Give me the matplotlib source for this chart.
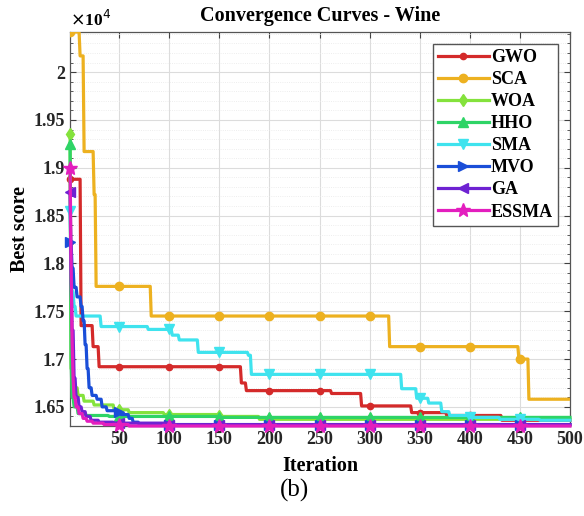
import numpy as np
import matplotlib
matplotlib.use("Agg")
import matplotlib.pyplot as plt
from matplotlib.ticker import MultipleLocator, FuncFormatter

plt.rcParams['font.family'] = ['Liberation Serif', 'DejaVu Serif']

# step-change points (iteration, best score)
n_iter = 500
names = ['GWO', 'SCA', 'WOA', 'HHO', 'SMA', 'MVO', 'GA', 'ESSMA']

gwo_it = [1, 12, 24, 30, 172, 177, 262, 292, 342, 377, 432]
gwo_val = [18880, 17350, 17130, 16920, 16750, 16670, 16640, 16510, 16440, 16410, 16360]

sca_it = [1, 11, 15, 25, 27, 82, 320, 449, 459]
sca_val = [20420, 20170, 19170, 18720, 17760, 17450, 17130, 17000, 16580]

woa_it = [1, 2, 4, 9, 15, 25, 45, 60, 95, 150, 190]
woa_val = [19350, 16900, 16700, 16620, 16560, 16520, 16470, 16440, 16420, 16400, 16370]

hho_it = [1, 2, 3, 5, 9, 17, 40, 150]
hho_val = [19250, 17000, 16600, 16500, 16430, 16410, 16400, 16390]

sma_it = [1, 2, 3, 5, 7, 32, 79, 103, 110, 129, 179, 182, 332, 347, 359, 372, 380, 400, 430, 470]
sma_val = [18550, 18000, 17700, 17550, 17450, 17340, 17310, 17250, 17200, 17070, 17040, 16840,
           16690, 16590, 16540, 16450, 16410, 16390, 16370, 16360]

mvo_it = [1, 3, 5, 8, 12, 14, 16, 18, 20, 23, 28, 33, 38, 47, 52, 60, 64, 70]
mvo_val = [18220, 17950, 17750, 17650, 17550, 17400, 17150, 16900, 16700, 16620, 16580, 16500,
           16460, 16450, 16420, 16380, 16340, 16315]

ga_it = [1, 2, 3, 5, 7, 10, 13, 17, 22, 30, 45, 100]
ga_val = [18750, 17900, 17300, 16800, 16600, 16500, 16450, 16400, 16360, 16340, 16330, 16315]

essma_it = [1, 2, 3, 4, 5, 7, 10, 14, 18, 24, 35, 60]
essma_val = [19000, 18000, 17200, 16800, 16600, 16500, 16430, 16380, 16350, 16330, 16315, 16300]

colors = ['#D42A2A', '#EDB120', '#84E23C', '#2ED466', '#3FE3EE', '#1A4ED8', '#6E22D2', '#E31EBE']
markers = ['.', 'o', 'd', '^', 'v', '>', '<', '*']
msizes = [9, 6, 6, 7, 7, 7, 7, 10]

series = [(gwo_it, gwo_val), (sca_it, sca_val), (woa_it, woa_val), (hho_it, hho_val),
          (sma_it, sma_val), (mvo_it, mvo_val), (ga_it, ga_val), (essma_it, essma_val)]


def hold_steps(its, vals, x):
    # best score stays until the next improvement
    idx = np.searchsorted(np.array(its), x, side='right') - 1
    return np.array(vals, dtype=float)[idx]


x = np.arange(1, n_iter + 1)
mark_idx = [0] + list(range(49, 450, 50))

fig = plt.figure(figsize=(5.84, 5.16), dpi=100)
ax = fig.add_axes([0.120, 0.1744, 0.856, 0.7636])

for (its, vals), name, c, m, ms in zip(series, names, colors, markers, msizes):
    y = hold_steps(its, vals, x)
    ax.plot(x, y, color=c, lw=2.3, marker=m, ms=ms, markevery=mark_idx,
            label=name, clip_on=(name == 'SCA'), zorder=3)

ax.set_xlim(1, n_iter)
ax.set_ylim(16300, 20420)
ax.xaxis.set_major_locator(MultipleLocator(50))
ax.yaxis.set_major_locator(MultipleLocator(500))
ax.yaxis.set_minor_locator(MultipleLocator(100))
ax.xaxis.set_minor_locator(MultipleLocator(10))
ax.yaxis.set_major_formatter(FuncFormatter(lambda v, p: '%g' % round(v / 1e4, 4)))

ax.grid(True, which='major', color='#DCDCDC', lw=0.8)
ax.grid(True, which='minor', axis='y', color='#E8E8E8', lw=0.6, ls=':')
ax.set_axisbelow(True)
ax.tick_params(which='both', direction='in', top=True, right=True, colors='#404040')
ax.tick_params(which='major', length=4, labelsize=13, labelcolor='#262626')
ax.tick_params(which='minor', length=2)
ax.tick_params(axis='x', which='minor', length=0)
for lab in ax.get_xticklabels() + ax.get_yticklabels():
    lab.set_fontweight('bold')
for s in ax.spines.values():
    s.set_color('#555555')
    s.set_linewidth(0.9)

ax.set_title('Convergence Curves - Wine', fontsize=14.5, fontweight='bold', pad=8)
ax.set_xlabel('Iteration', fontsize=14.5, fontweight='bold', labelpad=6)
ax.set_ylabel('Best score', fontsize=14.5, fontweight='bold', labelpad=3)
ax.text(0.0, 1.005, r'$\times$10$^{4}$', transform=ax.transAxes, fontsize=12.5,
        fontweight='bold', ha='left', va='bottom')

leg = ax.legend(loc='upper right', fontsize=13, handlelength=2.8, labelspacing=0.28,
                borderaxespad=0.65, fancybox=False, framealpha=1, edgecolor='#555555',
                handletextpad=0.12, borderpad=0.3)
for t in leg.get_texts():
    t.set_fontweight('bold')
leg.get_frame().set_linewidth(1.0)

fig.text(0.505, 0.05, '(b)', fontsize=18, ha='center', va='center')

fig.savefig('out.png', dpi=100)
